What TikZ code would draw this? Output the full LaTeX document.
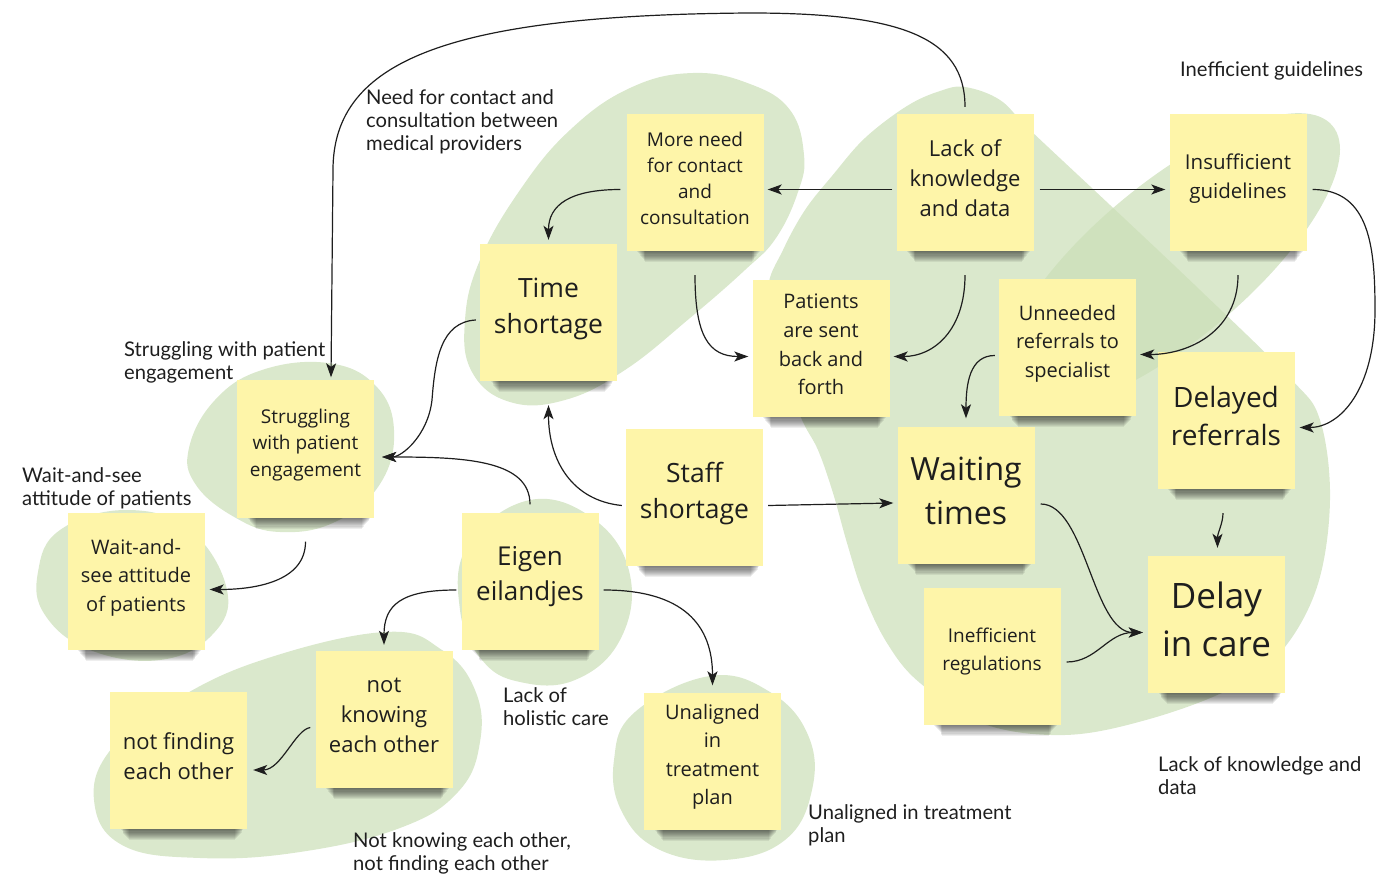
\documentclass[tikz,border=0pt]{standalone}
\usepackage{fontspec}
\setmainfont{Open Sans}
\newfontfamily\labelfont{Lato}
\usetikzlibrary{arrows.meta}
\pgfdeclarelayer{blobs}
\pgfdeclarelayer{shadows}
\pgfsetlayers{blobs,shadows,main}
\definecolor{stickyfill}{HTML}{FEF5A9}
\definecolor{blobgreen}{HTML}{CADEB6}
\definecolor{ink}{HTML}{1E1E1E}
\tikzset{
  sticky/.style={fill=stickyfill, minimum width=137pt, minimum height=137pt,
    inner sep=0pt},
  stickytext/.style={align=center, text=ink, inner sep=0pt},
  fs/.style 2 args={font=\fontsize{#1}{#2}\selectfont},
  blob/.style={fill=blobgreen, fill opacity=0.7},
  link/.style={draw=ink, line width=1.2pt,
    -{Stealth[length=14pt,width=10pt,inset=3.5pt]}},
  note/.style={font=\labelfont\fontsize{20.2}{23}\selectfont, text=ink,
    align=left, anchor=west, inner sep=0pt},
}
\begin{document}
\begin{tikzpicture}[x=1pt,y=-1pt]
\useasboundingbox (0,0) rectangle (1377,877);

% ---- green clusters ----
\begin{pgfonlayer}{blobs}
% time / consultation cluster
\fill[blob] plot[smooth cycle, tension=0.7] coordinates {
  (693,73) (750,84) (790,110) (804,155) (798,192) (776,238) (745,270)
  (690,318) (625,370) (565,400) (510,402) (472,372) (465,320) (480,260)
  (520,190) (570,130) (630,88)};
% knowledge / delay cluster
\fill[blob] plot[smooth cycle, tension=0.6] coordinates {
  (965,87) (1000,100) (1030,130) (1110,205) (1200,290) (1290,378)
  (1320,420) (1330,500) (1317,587) (1280,653) (1228,690) (1146,720)
  (1065,735) (984,724) (920,683) (887,643) (863,593) (847,543) (833,493)
  (818,450) (800,415) (780,350) (768,290) (783,250) (805,210) (832,176)
  (865,138) (907,106) (940,91)};
% guidelines cluster
\fill[blob, rotate around={40:(1170,262)}] (1170,262) ellipse [x radius=212, y radius=78];
% patient engagement
\fill[blob] plot[smooth cycle, tension=0.7] coordinates {
  (328,363) (375,385) (394,430) (380,484) (335,522) (280,532) (236,518)
  (196,485) (189,448) (215,400) (262,370)};
% wait-and-see
\fill[blob] plot[smooth cycle, tension=0.7] coordinates {
  (126,510) (190,530) (227,590) (212,635) (160,660) (90,650) (45,615)
  (38,572) (60,530)};
% eigen eilandjes
\fill[blob] plot[smooth cycle, tension=0.7] coordinates {
  (530,500) (595,520) (630,575) (620,640) (575,680) (520,682) (482,660)
  (460,610) (468,545)};
% not knowing / not finding
\fill[blob] plot[smooth cycle, tension=0.7] coordinates {
  (385,632) (442,650) (475,690) (480,742) (458,792) (400,828) (300,852)
  (200,858) (122,845) (94,800) (112,748) (172,702) (262,660)};
% unaligned
\fill[blob] plot[smooth cycle, tension=0.7] coordinates {
  (710,676) (770,692) (808,735) (812,790) (785,840) (725,860) (660,850)
  (622,812) (614,760) (635,712)};
\end{pgfonlayer}

% ---- sticky notes ----
\node[sticky] (more)       at (695,182.5)   {};
\node[sticky] (lack)       at (965,182.5)   {};
\node[sticky] (insuf)      at (1238,182.5)  {};
\node[sticky] (time)       at (548.5,312.5) {};
\node[sticky] (patients)   at (821,348.5)   {};
\node[sticky] (unneeded)   at (1067.5,347.5){};
\node[sticky] (delayed)    at (1226,420.5)  {};
\node[sticky] (struggling) at (305.5,449)   {};
\node[sticky] (staff)      at (694.5,497.5) {};
\node[sticky] (waiting)    at (966,495)     {};
\node[sticky] (eigen)      at (530,581)     {};
\node[sticky] (waitsee)    at (136,581.5)   {};
\node[sticky] (ineff)      at (992,656)     {};
\node[sticky] (delay)      at (1216.5,624.5){};
\node[sticky] (knowing)    at (384,719.5)   {};
\node[sticky] (finding)    at (178.5,760.5) {};
\node[sticky] (unaligned)  at (712.5,761)   {};

% ---- note texts, set a little above centre ----
\node[stickytext, fs={19}{26}]   (more-t)       at ([yshift=4pt]more.center)       {More need\\for contact\\and\\consultation};
\node[stickytext, fs={22}{30}]   (lack-t)       at ([yshift=4pt]lack.center)       {Lack of\\knowledge\\and data};
\node[stickytext, fs={20.5}{29}] (insuf-t)      at ([yshift=4pt]insuf.center)      {Insufficient\\guidelines};
\node[stickytext, fs={26.5}{36}] (time-t)       at ([yshift=4pt]time.center)       {Time\\shortage};
\node[stickytext, fs={20}{28.7}] (patients-t)   at ([yshift=4pt]patients.center)   {Patients\\are sent\\back and\\forth};
\node[stickytext, fs={20}{28.5}] (unneeded-t)   at ([yshift=4pt]unneeded.center)   {Unneeded\\referrals to\\specialist};
\node[stickytext, fs={28}{38}]   (delayed-t)    at ([yshift=4pt]delayed.center)    {Delayed\\referrals};
\node[stickytext, fs={19}{26.5}] (struggling-t) at ([yshift=4pt]struggling.center) {Struggling\\with patient\\engagement};
\node[stickytext, fs={26.5}{36}] (staff-t)      at ([yshift=4pt]staff.center)      {Staff\\shortage};
\node[stickytext, fs={32}{44}]   (waiting-t)    at ([yshift=4pt]waiting.center)    {Waiting\\times};
\node[stickytext, fs={26}{35}]   (eigen-t)      at ([yshift=4pt]eigen.center)      {Eigen\\eilandjes};
\node[stickytext, fs={20}{28.5}] (waitsee-t)    at ([yshift=4pt]waitsee.center)    {Wait-and-\\see attitude\\of patients};
\node[stickytext, fs={19}{28}]   (ineff-t)      at ([yshift=4pt]ineff.center)      {Inefficient\\regulations};
\node[stickytext, fs={35}{48}]   (delay-t)      at ([yshift=5pt]delay.center)      {Delay\\in care};
\node[stickytext, fs={22}{30}]   (knowing-t)    at ([yshift=4pt]knowing.center)    {not\\knowing\\each other};
\node[stickytext, fs={22}{30}]   (finding-t)    at ([yshift=4pt]finding.center)    {not finding\\each other};
\node[stickytext, fs={20}{28.5}] (unaligned-t)  at ([yshift=4pt]unaligned.center)  {Unaligned\\in\\treatment\\plan};

% ---- soft shadows under the notes ----
\begin{pgfonlayer}{shadows}
\foreach \n in {more,lack,insuf,time,patients,unneeded,delayed,struggling,
    staff,waiting,eigen,waitsee,ineff,delay,knowing,finding,unaligned}{
  \foreach \k in {1,...,10}{
    \fill[black, opacity=0.065]
      ([xshift={10pt+0.9pt*\k}, yshift=3pt]\n.south west) rectangle
      ([xshift={-3pt-0.9pt*\k}, yshift={-1.1pt*\k}]\n.south east);
  }
}
\end{pgfonlayer}

% ---- free labels ----
\node[note] (lblneed)   at (366,122)  {Need for contact and\\consultation between\\medical providers};
\node[note] (lblguide)  at (1180,71)  {Inefficient guidelines};
\node[note] (lblstrug)  at (124,362)  {Struggling with patient\\engagement};
\node[note] (lblwait)   at (22,488.5) {Wait-and-see\\attitude of patients};
\node[note] (lblholist) at (503,706.5){Lack of\\holistic care};
\node[note] (lblknow)   at (353,853.5){Not knowing each other,\\not finding each other};
\node[note] (lblalign)  at (808,825.5){Unaligned in treatment\\plan};
\node[note] (lbldata)   at (1158,775.5){Lack of knowledge and\\data};

% ---- connectors ----
\coordinate (overpass) at (750,13);
\coordinate (drop) at (333,170);
\draw[link] ([yshift=7pt]lack.north) .. controls +(0,-70) and +(150,0) .. (overpass)
  .. controls +(-300,2) and +(0,-110) .. (drop) -- ([xshift=25.5pt,yshift=3pt]struggling.north);
\draw[link] ([xshift=-4pt,yshift=-7pt]lack.west) -- ([xshift=4pt,yshift=-7pt]more.east);
\draw[link] ([xshift=6pt,yshift=-7pt]lack.east) -- ([xshift=-4pt,yshift=-7pt]insuf.west);
\draw[link] ([xshift=-6pt,yshift=-7pt]more.west) .. controls +(-50,0) and +(0,-35) .. ([yshift=4pt]time.north);
\draw[link] ([yshift=-24pt]more.south) .. controls +(0,60) and +(-40,0) .. ([xshift=-4pt,yshift=-8pt]patients.west);
\draw[link] ([yshift=-24pt]lack.south) .. controls +(0,55) and +(40,0) .. ([xshift=4pt,yshift=-8pt]patients.east);
\draw[link] ([yshift=-24pt]insuf.south) .. controls +(0,55) and +(50,0) .. ([xshift=4pt,yshift=-7pt]unneeded.east);
\coordinate (rim) at (1375,310);
\draw[link] ([xshift=6pt,yshift=-7pt]insuf.east) .. controls +(58,0) and +(0,-60) .. (rim)
  .. controls +(0,80) and +(40,0) .. ([xshift=5pt,yshift=-7pt]delayed.east);
\draw[link] ([xshift=-4pt,yshift=-8pt]unneeded.west) .. controls +(-25,0) and +(0,-35) .. ([yshift=8pt]waiting.north);
\coordinate (bend) at (432,400);
\draw[link] ([xshift=-4pt,yshift=-7.5pt]time.west) .. controls +(-35,2) and +(3,-40) .. (bend)
  .. controls +(-4,35) and +(20,0) .. ([xshift=8pt,yshift=-8pt]struggling.east);
\draw[link] ([yshift=8pt]eigen.north) .. controls +(0,-45) and +(80,0) .. ([xshift=8pt,yshift=-8pt]struggling.east);
\draw[link] ([xshift=-4pt,yshift=-8pt]staff.west) .. controls +(-50,-5) and +(0,55) .. ([yshift=-24pt]time.south);
\draw[link] ([xshift=5pt,yshift=-8pt]staff.east) -- ([xshift=-4pt,yshift=-8pt]waiting.west);
\draw[link] ([yshift=-24pt]struggling.south) .. controls +(0,40) and +(45,0) .. ([xshift=5pt,yshift=-8pt]waitsee.east);
\draw[link] ([xshift=-5pt,yshift=-9pt]eigen.west) .. controls +(-55,0) and +(0,-40) .. ([yshift=6pt]knowing.north);
\draw[link] ([xshift=5pt,yshift=-9pt]eigen.east) .. controls +(80,0) and +(0,-60) .. ([yshift=7pt]unaligned.north);
\draw[link] ([xshift=-5pt,yshift=-8pt]knowing.west) .. controls +(-15,2) and +(28,0) .. ([xshift=6pt,yshift=-9.5pt]finding.east);
\draw[link] ([xshift=6pt,yshift=-9pt]waiting.east) .. controls +(45,0) and +(-50,0) .. ([xshift=-5pt,yshift=-8pt]delay.west);
\draw[link] ([xshift=6pt,yshift=-6pt]ineff.east) .. controls +(30,0) and +(-35,0) .. ([xshift=-5pt,yshift=-8pt]delay.west);
\draw[link] ([xshift=-3pt,yshift=-24pt]delayed.south) .. controls +(0,10) and +(0,-15) .. ([xshift=1pt,yshift=8pt]delay.north);
\end{tikzpicture}
\end{document}
